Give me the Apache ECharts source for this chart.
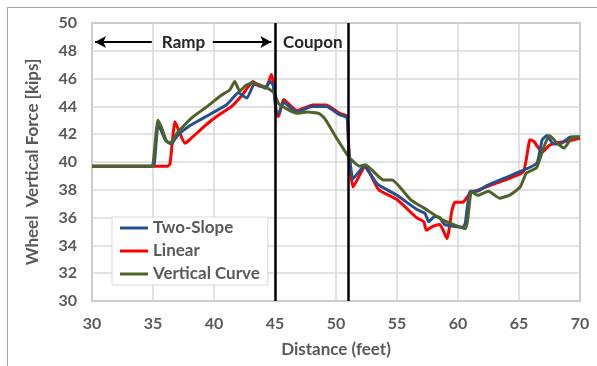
<!DOCTYPE html>
<html>
<head>
<meta charset="utf-8">
<script src="https://cdn.jsdelivr.net/npm/echarts@6/dist/echarts.min.js"></script>
<style>
  html, body { margin: 0; padding: 0; background: #fff; }
  .frame { position: absolute; left: 7px; top: 7px; width: 620px; height: 400px; border: 1px solid #a6a6a6; }
  #chart { position: absolute; left: 0; top: 0; width: 597px; height: 366px; }
</style>
</head>
<body>
<div class="frame"></div>
<div id="chart"></div>
<script>
// distances (feet) and wheel vertical force (kips)
const twoSlopeX = [30, 34.9, 35.1, 35.4, 35.6, 36.0, 36.5, 37.0, 38.0, 39.0, 40.0, 41.0, 41.45, 42.0, 42.3, 42.7, 43.3, 43.8, 44.2, 44.6, 44.85,
  45.1, 45.3, 45.7, 46.8, 48.0, 49.2, 50.3, 50.9, 51.05, 51.4, 52.3, 53.4, 55.0, 56.6, 57.3, 57.6, 58.1, 58.5, 58.9, 60.4, 60.6,
  61.0, 61.6, 62.35, 64.5, 66.45, 66.9, 67.3, 67.8, 68.4, 69.2, 70];
const twoSlopeY = [39.7, 39.7, 39.8, 42.6, 42.4, 41.6, 41.3, 41.9, 42.6, 43.1, 43.6, 44.1, 44.5, 45.0, 44.8, 44.6, 45.6, 45.5, 45.3, 45.8, 45.5,
  43.6, 43.5, 44.3, 43.6, 44.0, 44.0, 43.4, 43.2, 40.8, 38.8, 39.7, 38.4, 37.6, 36.6, 36.3, 35.7, 36.1, 36.0, 35.5, 35.3, 35.6,
  37.9, 37.9, 38.3, 39.1, 39.9, 41.6, 41.9, 41.3, 41.3, 41.8, 41.8];

const linearX = [30, 36.2, 36.4, 36.8, 37.1, 37.6, 38.0, 39.0, 39.8, 40.6, 41.45, 42.3, 42.8, 43.2, 43.6, 44.2, 44.5, 44.7, 44.9,
  45.15, 45.3, 45.7, 46.8, 48.1, 49.2, 50.3, 50.9, 51.05, 51.4, 52.4, 53.5, 55.0, 56.6, 57.2, 57.4, 57.9, 58.5, 59.1, 59.5, 59.75,
  60.4, 61.0, 63.2, 65.35, 65.9, 66.2, 66.9, 67.5, 68.2, 69.0, 70];
const linearY = [39.7, 39.7, 39.9, 42.9, 42.3, 41.35, 41.6, 42.4, 43.0, 43.5, 44.0, 44.8, 45.4, 45.8, 45.5, 45.4, 45.8, 46.3, 45.6,
  43.3, 43.3, 44.5, 43.7, 44.1, 44.1, 43.5, 43.3, 41.0, 38.2, 39.7, 38.0, 37.3, 36.0, 35.7, 35.1, 35.35, 35.5, 34.5, 36.5, 37.1,
  37.1, 37.75, 38.5, 39.3, 41.6, 41.5, 40.7, 41.2, 41.4, 41.5, 41.7];

const curveX = [30, 34.8, 35.0, 35.4, 35.7, 36.1, 36.4, 37.0, 38.2, 39.3, 40.6, 41.3, 41.7, 42.1, 42.6, 43.2, 44.2, 44.9,
  45.3, 46.0, 46.8, 47.6, 48.6, 49.1, 50.06, 51.1, 51.95, 52.4, 53.9, 54.6, 56.1, 57.2, 58.8, 60.6,
  61.1, 61.6, 62.5, 63.4, 64.2, 65.1, 65.6, 66.45, 67.0, 67.5, 68.2, 68.7, 69.4, 70];
const curveY = [39.7, 39.7, 39.8, 43.0, 42.5, 41.5, 41.35, 42.1, 43.2, 43.9, 44.8, 45.2, 45.8, 45.1, 45.5, 45.7, 45.4, 45.0,
  44.2, 43.8, 43.5, 43.6, 43.5, 43.1, 41.7, 40.3, 39.7, 39.8, 38.7, 38.7, 37.3, 36.7, 35.8, 35.2,
  37.9, 37.6, 37.9, 37.4, 37.6, 38.2, 39.2, 39.6, 41.0, 41.9, 41.3, 41.0, 41.8, 41.8];

// section boundaries and labels
const boundaries = [45, 51];
const rampArrowLeft = [30.25, 34.9];
const rampArrowRight = [39.9, 44.7];
const labelLevel = 48.63;
const rampAt = 37.5;
const couponAt = 48.1;

const pairs = (xs, ys) => xs.map((x, i) => [x, ys[i]]);

const font = 'Lato, "DejaVu Sans", sans-serif';
const grey = '#595959';
const textStyle = { fontFamily: font, fontWeight: 'bold', fontSize: 17 };

const chart = echarts.init(document.getElementById('chart'));

chart.setOption({
  animation: false,
  grid: {
    left: 92, right: 17, top: 23, bottom: 65,
    show: true, borderColor: '#8c8c8c', borderWidth: 1.5
  },
  legend: {
    orient: 'vertical',
    left: 112, top: 217,
    padding: [1, 8, 1, 8],
    itemGap: 3,
    itemWidth: 28, itemHeight: 3,
    icon: 'rect',
    backgroundColor: '#fff',
    borderColor: '#d9d9d9', borderWidth: 1,
    textStyle: { ...textStyle, color: grey, lineHeight: 20 },
    data: ['Two-Slope', 'Linear', 'Vertical Curve']
  },
  xAxis: {
    type: 'value', min: 30, max: 70, interval: 5,
    name: 'Distance (feet)', nameLocation: 'middle', nameGap: 40,
    nameTextStyle: { ...textStyle, color: grey },
    axisLine: { show: false }, axisTick: { show: false },
    axisLabel: { margin: 15, fontFamily: font, fontWeight: 'bold', fontSize: 16, color: grey },
    splitLine: { lineStyle: { color: '#d9d9d9', width: 1.5 } }
  },
  yAxis: {
    type: 'value', min: 30, max: 50, interval: 2,
    name: 'Wheel  Vertical Force [kips]', nameLocation: 'middle', nameGap: 51,
    nameTextStyle: { ...textStyle, color: grey },
    axisLine: { show: false }, axisTick: { show: false },
    axisLabel: { margin: 15, fontFamily: font, fontWeight: 'bold', fontSize: 16, color: grey },
    splitLine: { lineStyle: { color: '#d9d9d9', width: 1.5 } }
  },
  series: [
    {
      name: 'Two-Slope', type: 'line', data: pairs(twoSlopeX, twoSlopeY),
      showSymbol: false, smooth: 0.15, z: 3,
      lineStyle: { color: '#24508f', width: 3 }, itemStyle: { color: '#24508f' },
      markLine: {
        silent: true, symbolSize: [9, 11],
        lineStyle: { color: '#000', width: 2, type: 'solid' },
        label: { show: false },
        data: [
          [{ coord: [rampArrowLeft[1], labelLevel], symbol: 'none' }, { coord: [rampArrowLeft[0], labelLevel], symbol: 'arrow' }],
          [{ coord: [rampArrowRight[0], labelLevel], symbol: 'none' }, { coord: [rampArrowRight[1], labelLevel], symbol: 'arrow' }]
        ]
      },
      markPoint: {
        silent: true, symbol: 'rect', symbolSize: 1,
        itemStyle: { color: 'rgba(0,0,0,0)' },
        label: { show: true, position: 'inside', ...textStyle, color: '#262626', formatter: p => p.name },
        data: [
          { name: 'Ramp', coord: [rampAt, labelLevel] },
          { name: 'Coupon', coord: [couponAt, labelLevel] }
        ]
      }
    },
    {
      name: 'Linear', type: 'line', data: pairs(linearX, linearY),
      showSymbol: false, smooth: 0.15, z: 2,
      lineStyle: { color: '#ff0000', width: 3 }, itemStyle: { color: '#ff0000' },
      markLine: {
        silent: true, symbol: 'none',
        lineStyle: { color: '#000', width: 2.5, type: 'solid' },
        label: { show: false },
        data: boundaries.map(b => ({ xAxis: b }))
      }
    },
    {
      name: 'Vertical Curve', type: 'line', data: pairs(curveX, curveY),
      showSymbol: false, smooth: 0.15, z: 4,
      lineStyle: { color: '#4f6228', width: 3 }, itemStyle: { color: '#4f6228' }
    }
  ]
});
</script>
</body>
</html>
